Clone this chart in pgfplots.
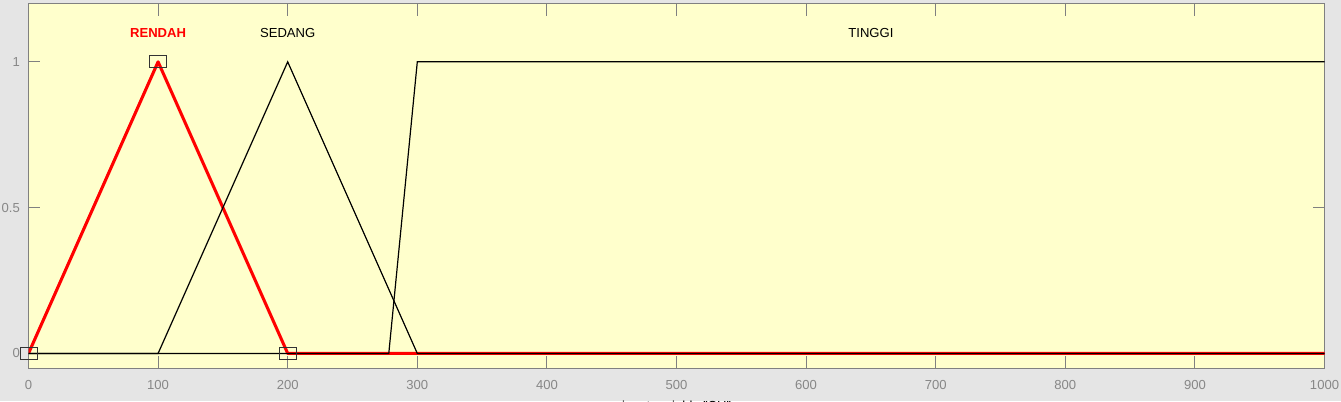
\documentclass[border=0pt]{standalone}
\usepackage{fontspec}
\setmainfont{Liberation Sans}
\usepackage{pgfplots}
\pgfplotsset{compat=1.18}
\definecolor{panel}{RGB}{255,255,204}
\definecolor{figbg}{RGB}{229,229,229}
\definecolor{axgray}{RGB}{128,128,128}
\definecolor{lblgray}{RGB}{135,135,135}
\begin{document}
\begin{tikzpicture}
\useasboundingbox (0,0) rectangle (1005.75pt,300.75pt);
\clip (0,0) rectangle (1005.75pt,300.75pt);
\fill[figbg] (0,0) rectangle (1005.75pt,300.75pt);
\begin{axis}[
  at={(21.375pt,24.75pt)}, anchor=south west,
  width=972pt, height=273.375pt, scale only axis,
  xmin=0, xmax=1000, ymin=-0.05, ymax=1.2,
  axis background/.style={fill=panel},
  axis line style={axgray, line width=0.75pt},
  xtick={0,100,...,1000}, ytick={0,0.5,1},
  tick style={axgray, line width=0.75pt},
  major tick length=9pt,
  tick align=inside,
  xtick pos=both, ytick pos=both,
  /pgf/number format/assume math mode=true,
  /pgf/number format/1000 sep={},
  ticklabel style={font=\fontsize{9.8}{11}\selectfont, text=lblgray},
  xticklabel style={yshift=-5.6pt},
  yticklabel style={xshift=-3pt},
  xlabel={input variable "CH"},
  xlabel style={at={(axis description cs:0.5,0)}, anchor=north, inner sep=0pt, yshift=-24.5pt, font=\fontsize{9.8}{11}\selectfont, text=black},
  clip=true,
]
\addplot[red, line width=2.3pt, line join=round] coordinates {(0,0) (100,1) (200,0) (1000,0)};
\addplot[black, line width=0.9pt] coordinates {(0,0) (100,0) (200,1) (300,0) (1000,0)};
\addplot[black, line width=0.9pt] coordinates {(0,0) (278,0) (300,1) (1000,1)};
\addplot[only marks, mark=square, mark size=4.5pt, mark options={xscale=1.42, draw=black!80, line width=0.6pt}] coordinates {(0,0) (100,1) (200,0)};
\node[text=red, font=\fontsize{9.8}{11}\selectfont\bfseries] at (axis cs:100,1.1) {RENDAH};
\node[text=black, font=\fontsize{9.8}{11}\selectfont] at (axis cs:200,1.1) {SEDANG};
\node[text=black, font=\fontsize{9.8}{11}\selectfont] at (axis cs:650,1.1) {TINGGI};
\end{axis}
\end{tikzpicture}
\end{document}
